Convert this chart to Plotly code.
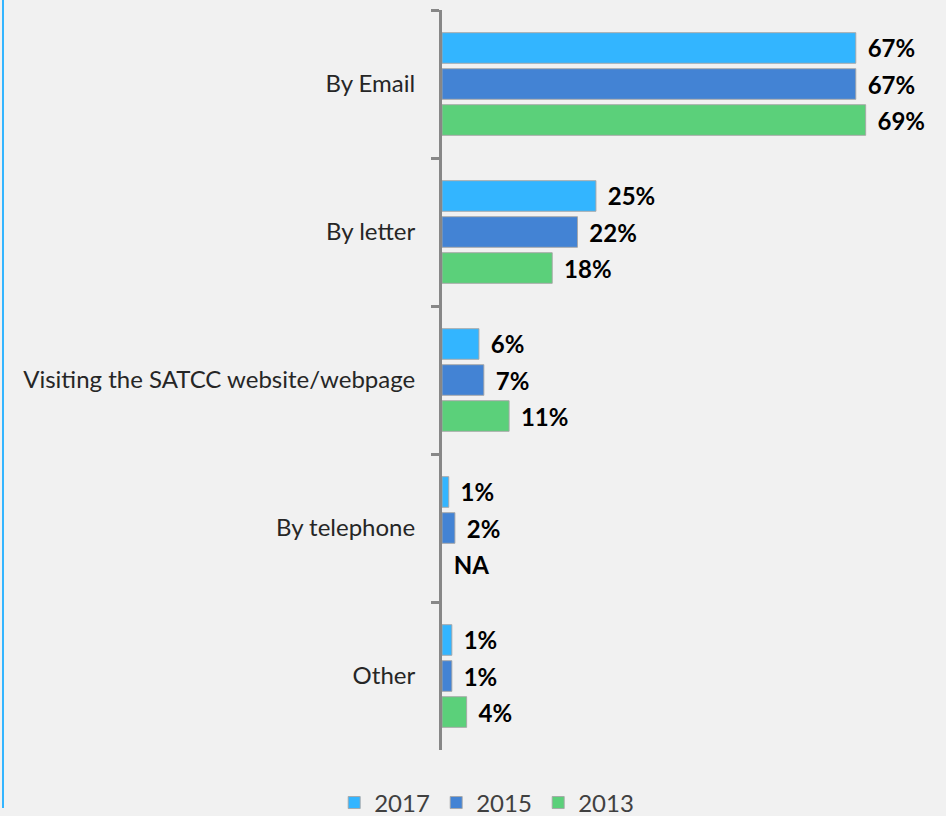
import plotly.graph_objects as go

categories = ["By Email", "By letter", "Visiting the SATCC website/webpage", "By telephone", "Other"]
series_names = ["2017", "2015", "2013"]
values_2017 = [67.2, 25.0, 6.0, 1.1, 1.6]
values_2015 = [67.2, 22.0, 6.8, 2.1, 1.6]
values_2013 = [68.8, 17.9, 10.9, 0.0, 4.0]
labels_2017 = ["67%", "25%", "6%", "1%", "1%"]
labels_2015 = ["67%", "22%", "7%", "2%", "1%"]
labels_2013 = ["69%", "18%", "11%", "NA", "4%"]
colors = ["#33B5FF", "#4383D4", "#5BD07A"]

FONT = "Lato, Calibri, sans-serif"
NB = "\u00a0\u2009"

fig = go.Figure()
for name, vals, labs, col in zip(series_names,
                                  [values_2017, values_2015, values_2013],
                                  [labels_2017, labels_2015, labels_2013],
                                  colors):
    fig.add_trace(go.Bar(
        name=name, y=categories, x=vals, orientation="h",
        text=[NB + t for t in labs], textposition="outside",
        textfont=dict(family=FONT, size=24, color="#000000", weight="bold"),
        cliponaxis=False, constraintext="none",
        marker=dict(color=col,
                    line=dict(color="rgba(165,165,165,0.9)",
                              width=[0 if v == 0 else 1 for v in vals])),
    ))

fig.update_layout(
    width=946, height=816,
    margin=dict(l=442, r=20, t=10, b=66),
    paper_bgcolor="#f1f1f1", plot_bgcolor="#f1f1f1",
    barmode="group", bargap=0.27, bargroupgap=0.15,
    font=dict(family=FONT, size=24, color="#262626"),
    showlegend=True,
    legend=dict(orientation="h", xref="container", yref="container",
                x=0.515, xanchor="center", y=0.016, yanchor="middle",
                entrywidth=57, entrywidthmode="pixels",
                font=dict(family=FONT, size=24, color="#404040"),
                bgcolor="rgba(0,0,0,0)"),
    xaxis=dict(visible=False, range=[0, 78.6]),
    yaxis=dict(autorange="reversed", showline=True, linecolor="#878787", linewidth=3,
               ticks="outside", tickson="boundaries", ticklen=8, tickwidth=3,
               tickcolor="#878787", ticklabelstandoff=19, showgrid=False,
               tickfont=dict(family=FONT, size=24, color="#262626")),
    shapes=[dict(type="line", xref="paper", yref="paper",
                 x0=(3 - 442) / 484, x1=(3 - 442) / 484,
                 y0=(750 - 0) / 740, y1=(750 - 808) / 740,
                 line=dict(color="#33B5FF", width=2))],
)

fig.write_html("out.html", config={"displayModeBar": False},
               post_script="document.body.style.margin='0';document.body.style.overflow='hidden';")
